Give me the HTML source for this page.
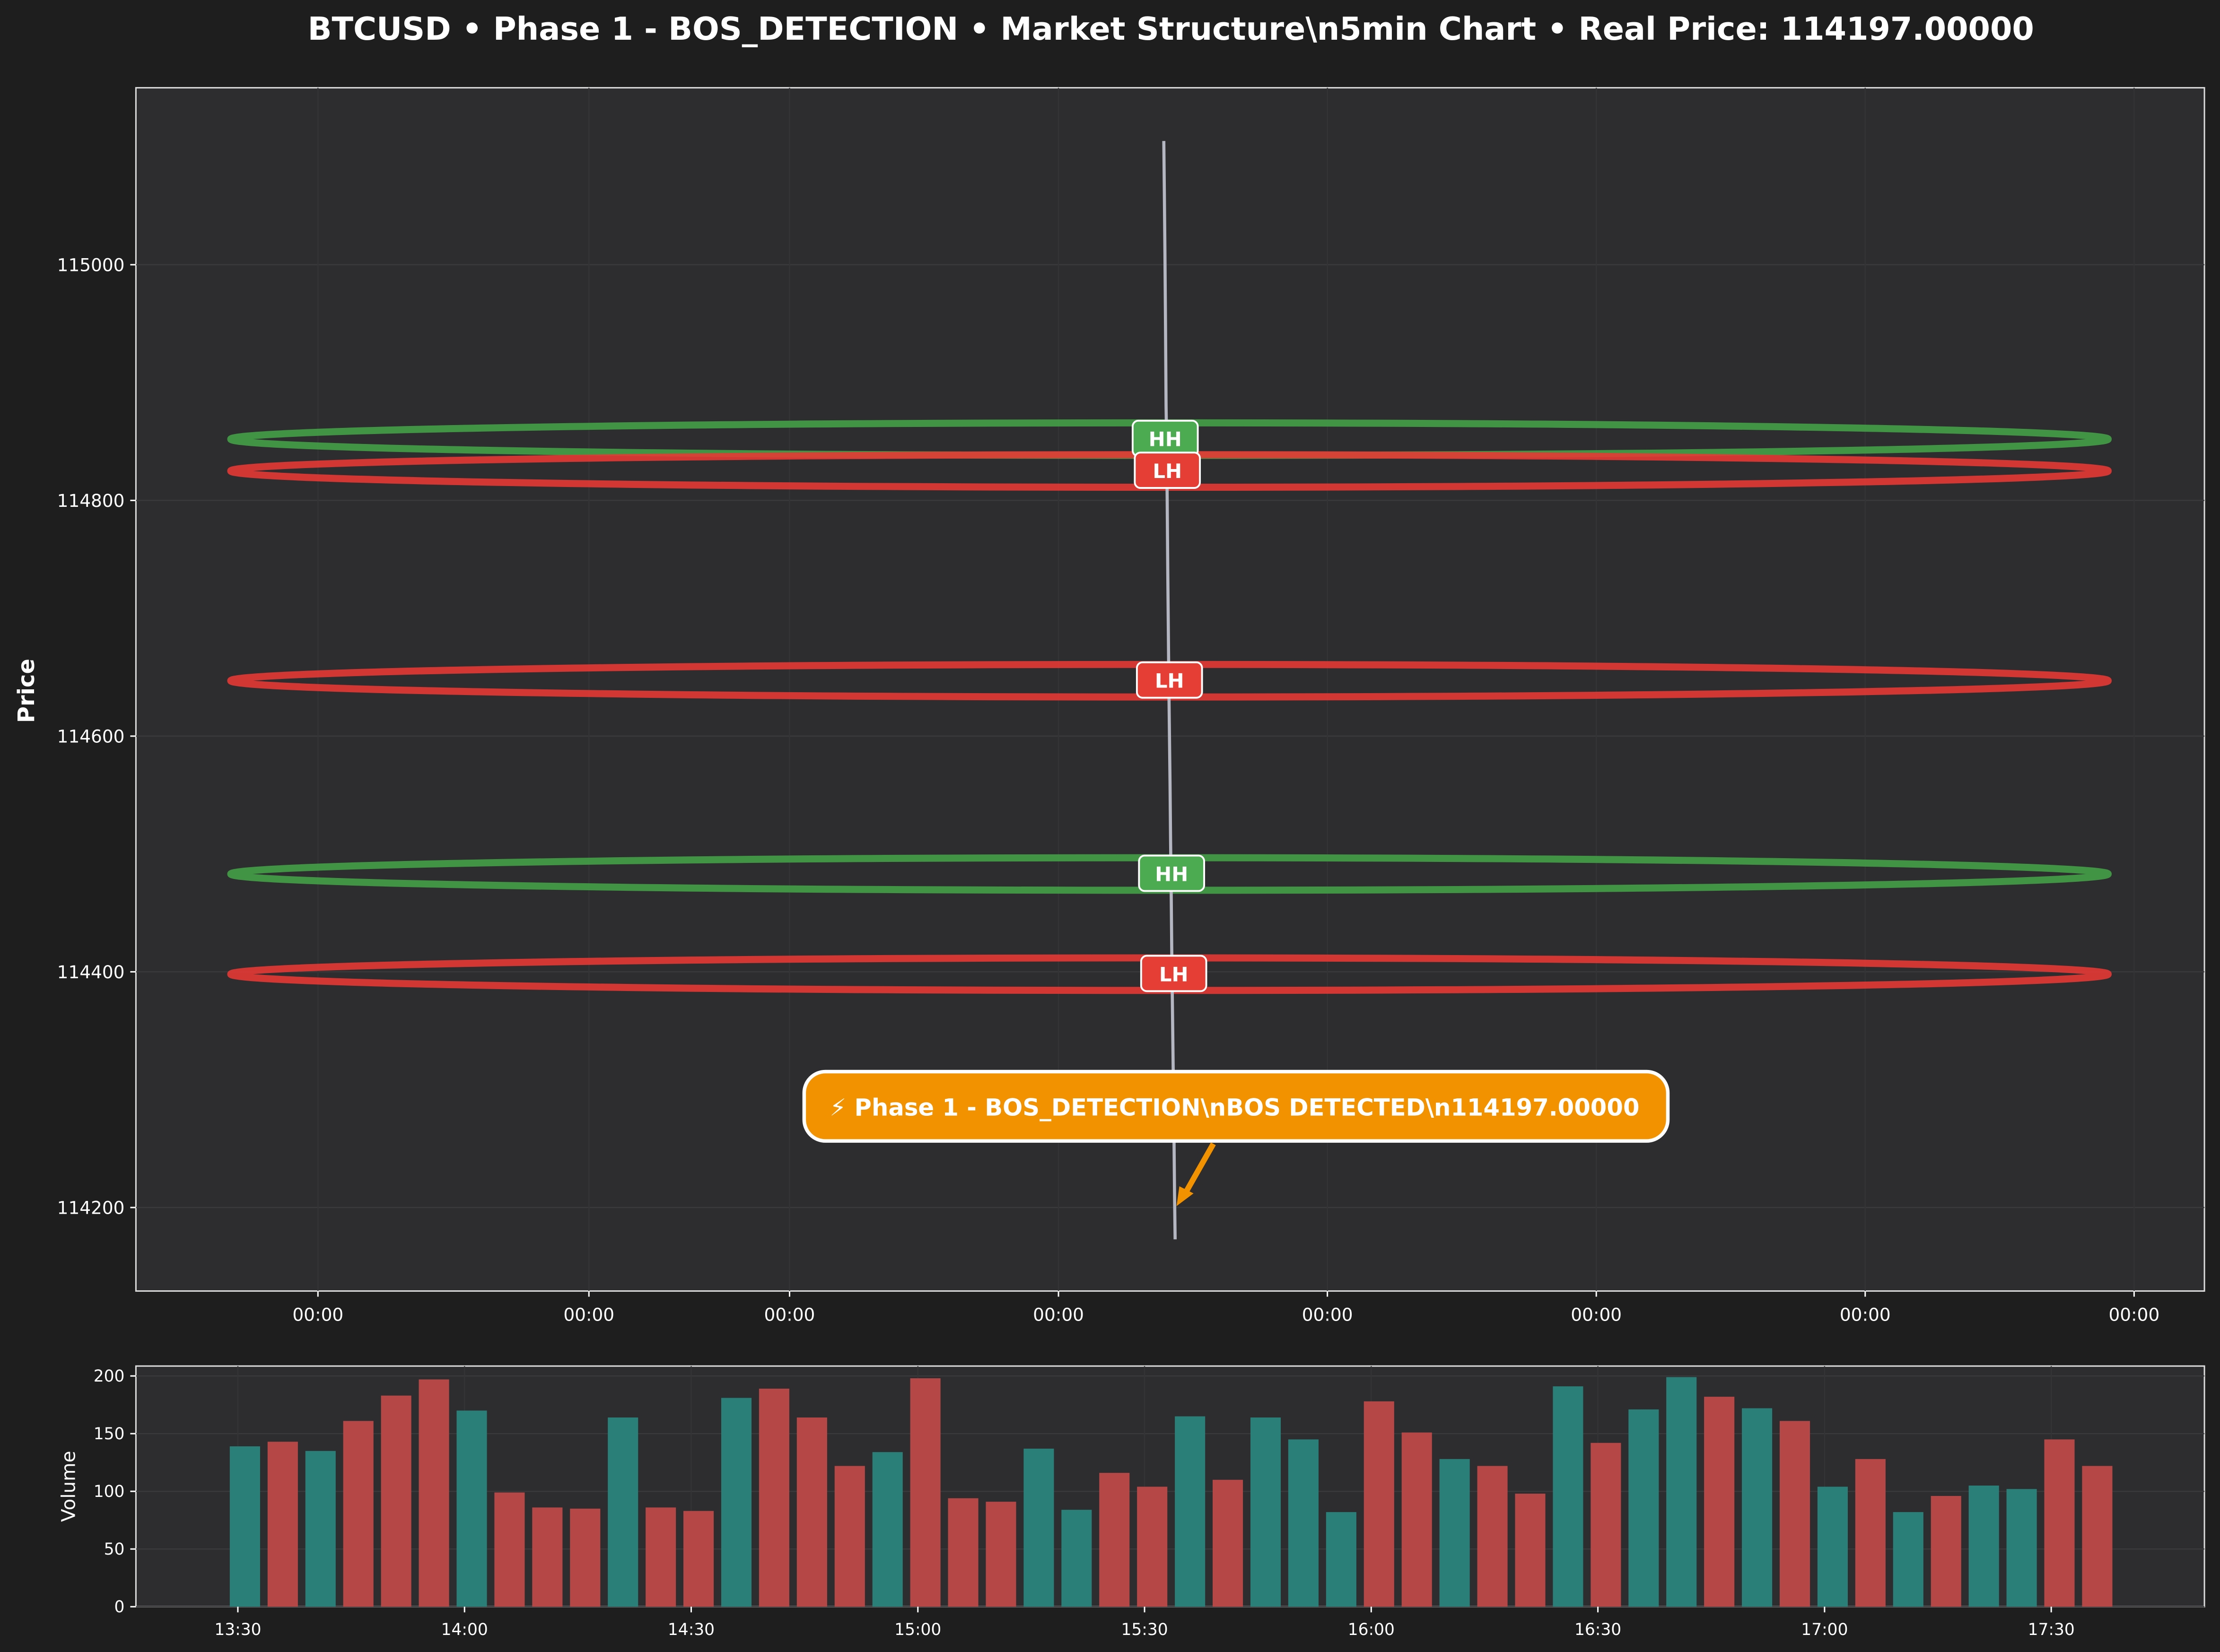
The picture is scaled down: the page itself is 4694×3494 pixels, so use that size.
<!DOCTYPE html>
<html><head><meta charset="utf-8"><style>
html,body{margin:0;padding:0;background:#1e1e1e;}
svg{display:block;}
text{font-family:"DejaVu Sans","Liberation Sans",sans-serif;}
</style></head><body>
<svg id="chart" width="4694" height="3494" viewBox="0 0 1568 1167" preserveAspectRatio="none" xmlns="http://www.w3.org/2000/svg">
<rect x="0" y="0" width="1568" height="1167" fill="#1e1e1e"/>
<text x="827" y="28" text-anchor="middle" font-size="22.3" font-weight="bold" fill="#ffffff">BTCUSD • Phase 1 - BOS_DETECTION • Market Structure\n5min Chart • Real Price: 114197.00000</text>
<rect x="96" y="62" width="1461" height="850" fill="#2d2d2f" stroke="#dddddd" stroke-width="1"/>
<g id="mainGrid"></g>
<g id="ellipses"></g>
<polyline id="priceLine" fill="none" stroke="#b4b6c2" stroke-width="2.2"/>
<g id="labels"></g>
<g id="mainAxis"></g>
<text x="0" y="0" transform="translate(24,488) rotate(-90)" text-anchor="middle" font-size="16" font-weight="bold" fill="#ffffff">Price</text>
<rect x="568" y="757" width="610" height="49" rx="15" fill="#f39200" stroke="#ffffff" stroke-width="2.5"/>
<text x="872" y="788" text-anchor="middle" font-size="16.6" font-weight="bold" fill="#ffffff">⚡ Phase 1 - BOS_DETECTION\nBOS DETECTED\n114197.00000</text>
<g>
<line x1="857" y1="808" x2="836" y2="845" stroke="#f39200" stroke-width="4"/>
<polygon points="831,852 833,838 843,843" fill="#f39200"/>
</g>
<rect x="96" y="965" width="1461" height="170" fill="#2d2d2f" stroke="#dddddd" stroke-width="1"/>
<g id="volGrid"></g>
<g id="volBars"></g>
<g id="volAxis"></g>
<text x="0" y="0" transform="translate(53,1050) rotate(-90)" text-anchor="middle" font-size="13.5" fill="#ffffff">Volume</text>
</svg>
<script>
const priceTicks = [114200, 114400, 114600, 114800, 115000];
const xTickLabels = ["00:00","00:00","00:00","00:00","00:00","00:00","00:00","00:00"];
const xTickFrac = [0.088, 0.219, 0.316, 0.446, 0.576, 0.706, 0.836, 0.966];
const levelTypes = ["HH","LH","LH","HH","LH"];
const levelPrices = [114852, 114825, 114647, 114483, 114398];
const priceSeries = [115105, 115060, 115010, 114950, 114880, 114850, 114800, 114740, 114690, 114640, 114600, 114560, 114510, 114470, 114420, 114380, 114340, 114300, 114260, 114210, 114173];
const volTimes = ["13:30","14:00","14:30","15:00","15:30","16:00","16:30","17:00","17:30"];
const volTicks = [0, 50, 100, 150, 200];
const volumes = [139,143,135,161,183,197,170,99,86,85,164,86,83,181,189,164,122,134,198,94,91,137,84,116,104,165,110,164,145,82,178,151,128,122,98,191,142,171,199,182,172,161,104,128,82,96,105,102,145,122];
const volUp = [1,0,1,0,0,0,1,0,0,0,1,0,0,1,0,0,0,1,0,0,0,1,1,0,0,1,0,1,1,1,0,0,1,0,0,1,0,1,1,0,1,0,1,0,1,0,1,1,0,0];

const NS = "http://www.w3.org/2000/svg";
function mk(tag, attrs, parent){const e=document.createElementNS(NS,tag);for(const k in attrs)e.setAttribute(k,attrs[k]);parent.appendChild(e);return e;}
const yP = v => 187 + (115000 - v) * 0.8325;
const xP = f => 96 + f * 1461;
const yV = v => 1135 - v * 0.815;
const xV = i => 173 + i * 26.7;
const xT = i => 168 + i * 160.1;

const mg = document.getElementById('mainGrid');
const ma = document.getElementById('mainAxis');
priceTicks.forEach(v => {
  const g = mk('line',{x1:96,x2:1557,y1:yP(v),y2:yP(v),stroke:'#3a3a3c','stroke-width':0.8},mg);
  
  
  mk('line',{x1:92,x2:96,y1:yP(v),y2:yP(v),stroke:'#ffffff','stroke-width':1},ma);
  const t = mk('text',{x:88,y:yP(v)+4.5,'text-anchor':'end','font-size':12.5,fill:'#ffffff'},ma);
  t.textContent = v;
  
  
});
xTickLabels.forEach((lab,i) => {
  const x = xP(xTickFrac[i]);
  const g = mk('line',{x1:x,x2:x,y1:62,y2:912,stroke:'#343436','stroke-width':0.8},mg);
  
  
  mk('line',{x1:x,x2:x,y1:912,y2:916,stroke:'#ffffff','stroke-width':1},ma);
  const t = mk('text',{x:x,y:933,'text-anchor':'middle','font-size':12.5,fill:'#ffffff'},ma);
  t.textContent = lab;
  
  
});

const el = document.getElementById('ellipses');
const lb = document.getElementById('labels');
levelPrices.forEach((p,i) => {
  const col = levelTypes[i]==='HH' ? '#43a047' : '#e53935';
  const cy = yP(p);
  const e = mk('ellipse',{cx:826,cy:cy,rx:663,ry:11.5,fill:'none',stroke:col,'stroke-width':5,opacity:0.9},el);
  
  
  const cx = 823 + i*1.5;
  const r = mk('rect',{x:cx-23,y:cy-13,width:46,height:25,rx:4,fill:levelTypes[i]==='HH'?'#4caa50':'#e53f35',stroke:'#ffffff','stroke-width':1.3},lb);
  
  
  const t = mk('text',{x:cx,y:cy+5,'text-anchor':'middle','font-size':14,'font-weight':'bold',fill:'#ffffff'},lb);
  t.textContent = levelTypes[i];
  
  
});

const pts = priceSeries.map((v,i) => (822 + i*0.4).toFixed(1)+','+yP(v).toFixed(1)).join(' ');
document.getElementById('priceLine').setAttribute('points', pts);

const vg = document.getElementById('volGrid');
const va = document.getElementById('volAxis');
volTicks.forEach(v => {
  const g = mk('line',{x1:96,x2:1557,y1:yV(v),y2:yV(v),stroke:'#3a3a3c','stroke-width':0.8},vg);
  
  
  mk('line',{x1:92,x2:96,y1:yV(v),y2:yV(v),stroke:'#ffffff','stroke-width':1},va);
  const t = mk('text',{x:88,y:yV(v)+4,'text-anchor':'end','font-size':11.5,fill:'#ffffff'},va);
  t.textContent = v;
  
  
});
volTimes.forEach((lab,i) => {
  const x = xT(i);
  const g = mk('line',{x1:x,x2:x,y1:965,y2:1135,stroke:'#343436','stroke-width':0.8},vg);
  
  
  mk('line',{x1:x,x2:x,y1:1135,y2:1139,stroke:'#ffffff','stroke-width':1},va);
  const t = mk('text',{x:x,y:1155,'text-anchor':'middle','font-size':11.5,fill:'#ffffff'},va);
  t.textContent = lab;
  
  
});
const vb = document.getElementById('volBars');
volumes.forEach((v,i) => {
  const r = mk('rect',{x:xV(i)-10.7,y:yV(v),width:21.4,height:1135-yV(v),fill:volUp[i]?'#2a8079':'#b54747'},vb);
  
  
});
</script>
</body></html>
